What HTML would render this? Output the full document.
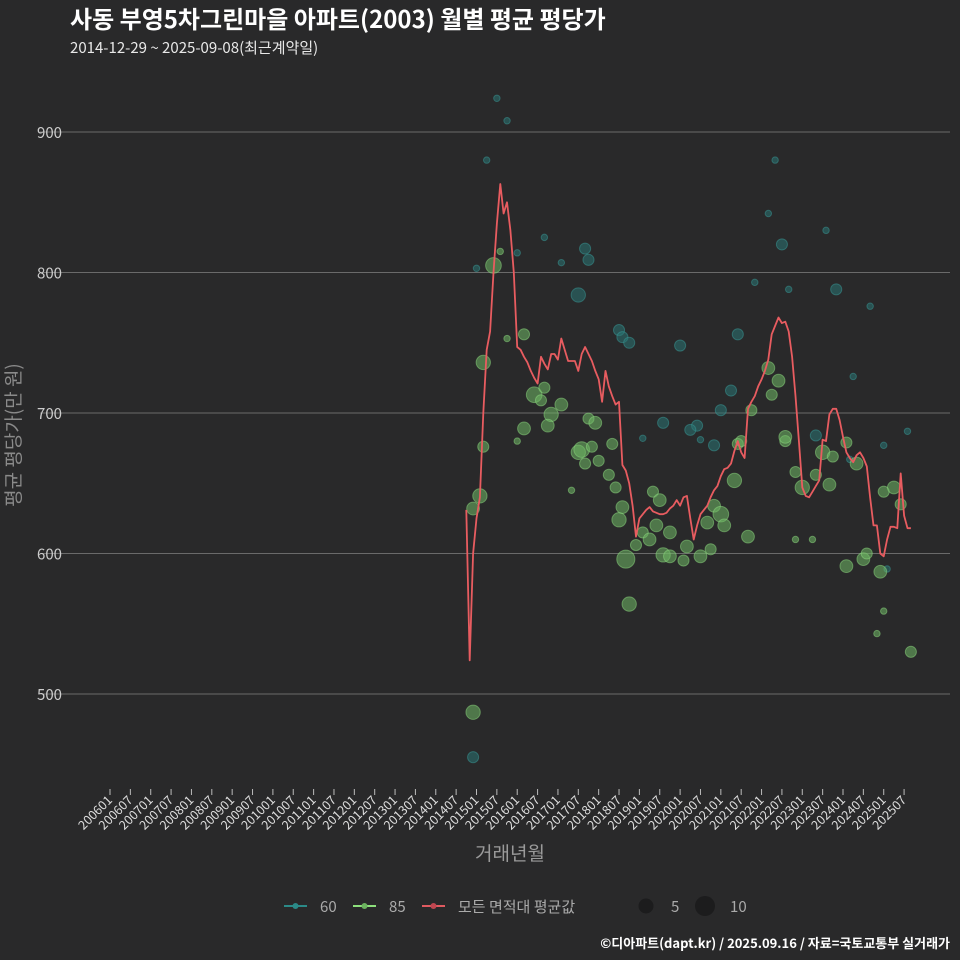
<!DOCTYPE html>
<html><head><meta charset="utf-8">
<style>
html,body{margin:0;padding:0;background:#29292a;}
svg{display:block;font-family:"Noto Sans CJK KR","Liberation Sans",sans-serif;}
</style></head>
<body>
<svg id="chart" width="960" height="960" viewBox="0 0 960 960">
<rect width="960" height="960" fill="#29292a"/>
<text x="70" y="28" fill="#ffffff" font-size="24" font-weight="bold">사동 부영5차그린마을 아파트(2003) 월별 평균 평당가</text>
<text x="70" y="53" fill="#e8e8e8" font-size="15">2014-12-29 ~ 2025-09-08(최근계약일)</text>
<g id="grid"></g>
<g id="yticks"></g>
<g id="xticks"></g>
<g id="teal"></g>
<g id="green"></g>
<g id="avgline"></g>
<text transform="translate(20,435) rotate(-90)" text-anchor="middle" fill="#8a8a8a" font-size="19">평균 평당가(만 원)</text>
<text x="510" y="860" text-anchor="middle" fill="#9a9a9a" font-size="19">거래년월</text>
<g>
 <g>
  <line x1="284" y1="906" x2="307" y2="906" stroke="#2b8a88" stroke-width="2"/>
  <circle cx="295.5" cy="906" r="3" fill="#2b8a88"/>
  <text x="320" y="912" fill="#aaaaaa" font-size="15">60</text>
 </g>
 <g>
  <line x1="353" y1="906" x2="376" y2="906" stroke="#8de07c" stroke-width="2"/>
  <circle cx="364.5" cy="906" r="3" fill="#6cb35f"/>
  <text x="389" y="912" fill="#aaaaaa" font-size="15">85</text>
 </g>
 <g>
  <line x1="422" y1="906" x2="445" y2="906" stroke="#e05a60" stroke-width="2"/>
  <circle cx="433.5" cy="906" r="3" fill="#c04650"/>
  <text x="458" y="912" fill="#aaaaaa" font-size="15">모든 면적대 평균값</text>
 </g>
 <g>
  <circle cx="646" cy="906" r="7.5" fill="#1c1c1d"/>
  <text x="671" y="912" fill="#aaaaaa" font-size="15">5</text>
 </g>
 <g>
  <circle cx="705" cy="906" r="10" fill="#1c1c1d"/>
  <text x="730" y="912" fill="#aaaaaa" font-size="15">10</text>
 </g>
</g>
<text x="950" y="948" text-anchor="end" fill="#ffffff" font-size="13" font-weight="bold">©디아파트(dapt.kr) / 2025.09.16 / 자료=국토교통부 실거래가</text>
</svg>
<script>
const yTicks = [500, 600, 700, 800, 900];
const avgStart = "2014-10";
const avgValues = [631,524,600,625,640,700,745,758,800,835,863,842,850,830,800,747,745,740,736,730,725,721,740,735,731,742,742,738,753,745,737,737,737,730,742,747,742,737,730,724,708,730,719,712,706,708,663,659,650,634,612,625,628,631,633,630,629,628,628,629,632,634,638,634,640,641,625,610,620,628,631,634,640,645,648,655,660,661,664,673,680,672,668,703,708,712,719,724,730,738,756,762,768,764,765,758,740,712,680,647,641,640,644,648,652,681,680,699,703,703,695,683,672,668,665,670,672,668,662,640,620,620,600,598,610,619,619,618,657,627,618,618];
const tealMonths = ["2015-07","2015-10","2015-04","2015-01","2016-09","2016-01","2017-09","2017-10","2017-07","2017-02","2018-07","2018-08","2018-10","2020-01","2019-08","2019-02","2020-06","2020-07","2021-01","2021-04","2021-06","2021-11","2022-03","2022-07","2022-05","2022-09","2023-08","2023-11","2023-05","2024-04","2024-09","2025-01","2025-08","2025-02","2014-12","2020-04","2020-11","2024-03"];
const tealValues = [924,908,880,803,825,814,817,809,784,807,759,754,750,748,693,682,691,681,702,716,756,793,842,820,880,788,830,788,684,726,776,677,687,589,455,688,677,667];
const tealCounts = [1,1,1,1,1,1,3,3,5,1,3,3,3,3,3,1,3,1,3,3,3,1,1,3,1,1,1,3,3,1,1,1,1,1,3,3,3,1];
const greenMonths = ["2015-06","2015-03","2015-03","2015-02","2014-12","2014-12","2015-08","2015-10","2016-03","2016-01","2016-03","2016-06","2016-08","2016-09","2016-11","2016-10","2017-02","2017-05","2017-07","2017-08","2017-09","2017-10","2017-12","2017-11","2018-01","2018-04","2018-05","2018-06","2018-07","2018-08","2018-09","2018-10","2018-12","2019-02","2019-04","2019-05","2019-06","2019-07","2019-08","2019-10","2019-10","2020-02","2020-03","2020-07","2020-09","2020-10","2020-11","2021-01","2021-02","2021-05","2021-06","2021-07","2021-09","2021-10","2022-03","2022-04","2022-06","2022-08","2022-08","2022-11","2023-01","2023-05","2023-07","2023-09","2023-10","2024-02","2024-02","2024-05","2024-07","2024-08","2024-12","2025-01","2025-04","2025-06","2025-09","2024-11","2025-01","2022-11","2023-04"];
const greenValues = [805,736,676,641,632,487,815,753,756,680,689,713,709,718,699,691,706,645,672,674,664,696,693,676,666,656,678,647,624,633,596,564,606,615,610,644,620,638,599,615,598,595,605,598,622,603,634,628,620,652,678,680,612,702,732,713,723,680,683,658,647,656,672,649,669,591,679,664,596,600,587,644,647,635,530,543,559,610,610];
const greenCounts = [6,5,3,5,4,5,1,1,3,1,4,6,3,3,5,4,4,1,5,6,3,3,4,3,3,3,3,3,5,4,8,5,3,3,4,3,4,4,5,4,4,3,4,4,4,3,4,6,4,5,3,3,4,3,4,3,4,3,4,3,5,3,5,4,3,4,3,4,4,3,4,3,4,3,3,1,1,1,1];

const NS = "http://www.w3.org/2000/svg";
const X0 = 110, PXM = 3.3935;
function monthIndex(s){const [y,m]=s.split("-").map(Number);return (y-2006)*12+(m-1);}
function xScale(mi){return X0 + mi*PXM;}
function yScale(v){return 132 + (900 - v)*1.405;}
function mk(tag, attrs, parent){const e=document.createElementNS(NS,tag);for(const k in attrs)e.setAttribute(k,attrs[k]);parent.appendChild(e);return e;}

const grid=document.getElementById("grid"), yt=document.getElementById("yticks");
yTicks.forEach(v=>{
  const l=mk("line",{x1:40,x2:950,y1:yScale(v),y2:yScale(v),stroke:"#6a6a6a","stroke-width":1},grid);
  
  
  const t=mk("text",{x:62,y:yScale(v)+6,"text-anchor":"end",fill:"#cccccc","font-size":15},yt);
  
  
  t.textContent=v;
});
const xt=document.getElementById("xticks");
for(let y=2006;y<=2025;y++){for(const m of [1,7]){
  const lab=""+y+(m<10?"0":"")+m;
  const x=xScale(monthIndex(y+"-"+m));
  const tk=mk("line",{x1:x,x2:x,y1:789,y2:795,stroke:"#bbbbbb","stroke-width":1},xt);
  
  
  const t=mk("text",{transform:"translate("+(x+3)+",801) rotate(-45)","text-anchor":"end",fill:"#dddddd","font-size":12.5},xt);
  
  
  t.textContent=lab;
}}

function drawPts(g, months, vals, counts, fill, stroke, name){
  months.forEach((mo,i)=>{
    const c=mk("circle",{cx:xScale(monthIndex(mo)),cy:yScale(vals[i]),r:3.2*Math.sqrt(counts[i]),fill:fill,"fill-opacity":0.55,stroke:stroke,"stroke-opacity":0.5,"stroke-width":1},g);
    
    
  });
}
drawPts(document.getElementById("teal"),tealMonths,tealValues,tealCounts,"#2a7573","#3a9a98","series-60");
drawPts(document.getElementById("green"),greenMonths,greenValues,greenCounts,"#6fb864","#8ed980","series-85");

const s0=monthIndex(avgStart);
const d=avgValues.map((v,i)=>(i?"L":"M")+xScale(s0+i).toFixed(1)+","+yScale(v).toFixed(1)).join("");
const p=mk("path",{d:d,fill:"none",stroke:"#e85c60","stroke-width":1.8,"stroke-linejoin":"round"},document.getElementById("avgline"));


</script>
</body></html>
